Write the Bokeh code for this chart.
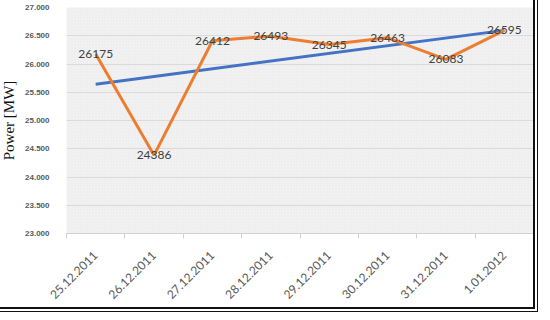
import numpy as np
from bokeh.plotting import figure
from bokeh.layouts import column
from bokeh.models import FixedTicker, BoxAnnotation, Range1d, ColumnDataSource
from bokeh.core.properties import value
from bokeh.embed import file_html
from bokeh.resources import INLINE

dates = ["25.12.2011", "26.12.2011", "27.12.2011", "28.12.2011",
         "29.12.2011", "30.12.2011", "31.12.2011", "1.01.2012"]
power = [26175, 24386, 26412, 26493, 26345, 26463, 26083, 26595]
trend_dates = ["25.12.2011", "1.01.2012"]
trend_values = [25643, 26595]
y_ticks = [23000, 23500, 24000, 24500, 25000, 25500, 26000, 26500, 27000]
y_tick_labels = ["23.000", "23.500", "24.000", "24.500", "25.000",
                 "25.500", "26.000", "26.500", "27.000"]

xpos = {d: i + 0.5 for i, d in enumerate(dates)}
src = ColumnDataSource(dict(x=[xpos[d] for d in dates], y=power,
                            lab=[str(v) for v in power]))
tsrc = ColumnDataSource(dict(x=[xpos[d] for d in trend_dates], y=trend_values))

p = figure(width=535, height=309, output_backend="svg", toolbar_location=None,
           x_range=Range1d(0, len(dates)), y_range=Range1d(23000, 27000),
           min_border_left=64, min_border_right=0, min_border_top=9,
           min_border_bottom=74)
p.outline_line_color = None
p.background_fill_color = "#f4f4f4"
p.border_fill_color = "white"

hatch = BoxAnnotation(fill_color=None, line_color=None, hatch_pattern="/",
                      hatch_color="#dddddd", hatch_scale=3, hatch_weight=0.5,
                      hatch_alpha=0.7, level="underlay")
p.add_layout(hatch)

p.line(x="x", y="y", source=tsrc, line_color="#4472C4", line_width=3)
p.line(x="x", y="y", source=src, line_color="#ED7D31", line_width=3)
p.text(x="x", y="y", text="lab", source=src, text_align="center",
       text_baseline="middle", text_font=value("Lato"),
       text_font_size="12px", text_color="#404040")

# x axis
p.xaxis.ticker = FixedTicker(ticks=[xpos[d] for d in dates],
                             minor_ticks=list(range(len(dates) + 1)))
p.xaxis.major_label_overrides = {xpos[d]: d for d in dates}
p.xaxis.major_label_orientation = np.pi / 4
p.xaxis.major_tick_line_color = None
p.xaxis.minor_tick_line_color = "#d0d0d0"
p.xaxis.minor_tick_out = 5
p.xaxis.minor_tick_in = 0
p.xaxis.axis_line_color = "#d0d0d0"
p.xaxis.major_label_text_font = "Lato"
p.xaxis.major_label_text_font_size = "12px"
p.xaxis.major_label_text_color = "#595959"
p.xaxis.major_label_standoff = 14
p.xgrid.grid_line_color = None

# y axis
p.yaxis.ticker = FixedTicker(ticks=y_ticks)
p.yaxis.major_label_overrides = {t: l for t, l in zip(y_ticks, y_tick_labels)}
p.yaxis.axis_line_color = None
p.yaxis.major_tick_line_color = None
p.yaxis.minor_tick_line_color = None
p.yaxis.major_label_text_font = "Liberation Sans"
p.yaxis.major_label_text_font_size = "8px"
p.yaxis.major_label_text_font_style = "bold"
p.yaxis.major_label_text_color = "#595959"
p.yaxis.major_label_standoff = 11
p.yaxis.axis_label = "Power [MW]"
p.yaxis.axis_label_text_font = "Liberation Serif"
p.yaxis.axis_label_text_font_style = "normal"
p.yaxis.axis_label_text_font_size = "15px"
p.yaxis.axis_label_text_color = "#111111"
p.yaxis.axis_label_standoff = 5
p.ygrid.grid_line_color = "#dadada"
p.ygrid.grid_line_width = 1

layout = column(p, styles={"border": "2px solid #111",
                           "box-shadow": "2px 2px 0 0 #fff, 3px 3px 0 0 #111",
                           "margin-left": "-4px", "margin-top": "-4px",
                           "margin-bottom": "-8px"})

open("out.html", "w").write(file_html(layout, INLINE))
